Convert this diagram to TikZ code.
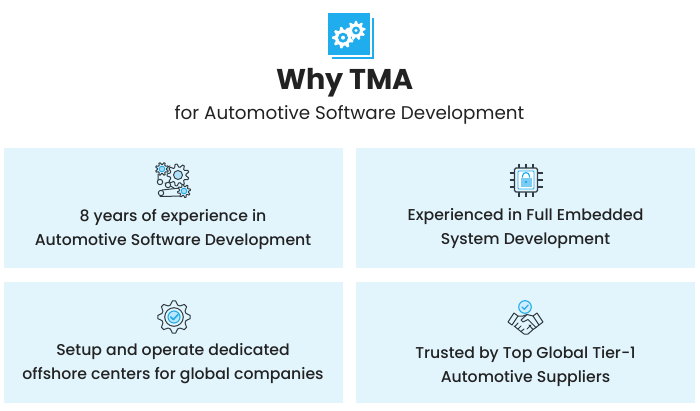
\documentclass[tikz,border=0pt]{standalone}
\usepackage{fontspec}
\setmainfont{Poppins}
\definecolor{cardbg}{HTML}{E2F5FD}
\definecolor{ink}{HTML}{222222}
\definecolor{iconblue}{HTML}{1FADEE}
\definecolor{lightblue}{HTML}{7CCDF5}
\definecolor{linegray}{HTML}{2F3A42}
\newcommand{\gear}[7]{% style cx cy rin rout teeth start
  \pgfmathsetmacro{\gs}{360/#6/4}
  \draw[#1] plot[samples at={0,...,\numexpr #6*4-1\relax}] ({#2+(mod(\x,4)<2?#4:#5)*cos(#7+(\x-0.5)*\gs)},{#3+(mod(\x,4)<2?#4:#5)*sin(#7+(\x-0.5)*\gs)}) -- cycle;
}
\tikzset{
  x=1pt,y=-1pt,
  card/.style={fill=cardbg,draw=none},
  cardtext/.style={align=center,font=\fontsize{15.7}{24}\selectfont\fontspec{Poppins Medium},text=ink,inner sep=0pt},
  linei/.style={draw=linegray,line width=1pt,line join=round,line cap=round,fill=none},
  filli/.style={draw=linegray,line width=1pt,fill=cardbg,line join=round},
  bluei/.style={draw=iconblue,line width=1.1pt,fill=lightblue!50,line join=round,line cap=round},
  whitegear/.style={fill=white,draw=none},
}
\begin{document}
\begin{tikzpicture}
\useasboundingbox (0,0) rectangle (700,410);
\fill[white] (0,0) rectangle (700,410);
% logo
\fill[iconblue] (332,18) rectangle (374,59);
\fill[white] (328,13) rectangle (371.5,56.5);
\fill[iconblue] (328,13) rectangle (370,55);
\gear{whitegear}{343}{37.7}{8}{10.8}{9}{0}
\fill[iconblue] (343,37.7) circle (5);
\fill[white] (343,37.7) circle (2);
\gear{whitegear}{356}{30.5}{7}{9.6}{9}{10}
\fill[iconblue] (356,30.5) circle (4);
\fill[white] (356,30.5) circle (1.7);
% title
\node[font=\fontsize{28.6}{34}\selectfont\bfseries,text=ink,inner sep=0pt] (title) at (345,82.5) {Why TMA};
\node[font=\fontsize{18.35}{20}\selectfont,text=ink,inner sep=0pt] (subtitle) at (349.5,114.5) {for Automotive Software Development};
% cards
\path[card] (4,148) rectangle (343,268);
\path[card] (356,148) rectangle (695,268);
\path[card] (4,282) rectangle (343,403);
\path[card] (356,282) rectangle (695,403);
% card text
\node[cardtext] (t1) at (173,229) {8 years of experience in\\Automotive Software Development};
\node[cardtext] (t2) at (525.5,229) {Experienced in Full Embedded\\System Development};
\node[cardtext] (t3) at (173,363.5) {Setup and operate dedicated\\offshore centers for global companies};
\node[cardtext] (t4) at (525.5,367) {Trusted by Top Global Tier-1\\Automotive Suppliers};
% icon 1: gears and belt
\draw[linei] (158,174) -- (158,182) (165,183) -- (174,188) (164,168) -- (170,166);
\draw[linei] (162,190) -- (180,188) (160,196.5) -- (182,196);
\gear{filli}{178}{175}{8}{11}{9}{0}
\draw[draw=linegray,line width=.9pt,fill=lightblue!60] (178,175) circle (4.5);
\gear{filli}{162}{169}{4.5}{6.5}{8}{0}
\draw[draw=iconblue,line width=.9pt,fill=lightblue!70] (162,169) circle (2.8);
\gear{filli}{184}{191}{4.5}{6.5}{8}{10}
\draw[draw=iconblue,line width=.9pt,fill=lightblue!70] (184,191) circle (2.8);
\draw[filli] (160,182) circle (2.7) (168,185) circle (2.7) (161,193) circle (2.7);
% icon 2: chip with lock
\foreach \i in {-7,0,7}{
  \draw[linegray,line width=1.6pt] (526+\i,163.5) -- (526+\i,196.5);
  \draw[linegray,line width=1.6pt] (509.5,180+\i) -- (542.5,180+\i);
}
\draw[linegray,line width=1.2pt,fill=cardbg,rounded corners=1.5pt] (514.5,168) rectangle (537.5,192);
\draw[iconblue,line width=.9pt,fill=white,rounded corners=1pt] (518,171) rectangle (534,189);
\draw[iconblue,line width=1.2pt] (522.5,177.5) -- (522.5,176) .. controls (522.5,171.5) and (529.5,171.5) .. (529.5,176) -- (529.5,177.5);
\fill[lightblue] (520.5,177.5) rectangle (531.5,187);
\fill[iconblue] (526,182) circle (1.4);
% icon 3: gear with check
\gear{linei}{174}{317}{12.5}{16.3}{8}{22.5}
\draw[linei] (174,317) circle (9.3);
\draw[bluei] (174,317) circle (6);
\draw[iconblue,line width=1.6pt,line cap=round,line join=round] (170.8,317) -- (173.3,319.6) -- (178,314.6);
% icon 4: handshake and check
\draw[draw=iconblue,line width=1.1pt,fill=lightblue!35] (525,307) circle (6.3);
\draw[iconblue,line width=1.2pt,line cap=round,line join=round] (522,307) -- (524.3,309.3) -- (528.2,305);
\draw[linei] (508,322) -- (514,313) -- (518,316) -- (512,325) -- cycle;
\draw[linei] (543,322) -- (537,313) -- (533,316) -- (539,325) -- cycle;
\draw[linei] (518,316) -- (523,316) -- (527,314.5) -- (533,316);
\draw[linei] (527,314.5) -- (521,320) -- (523,322) -- (528,319.5) -- (536,327.5) -- (533,329.5) -- (528,334) -- (524,334) -- (514,326);
\draw[linei] (536,327.5) -- (539,325);
\draw[linei] (518,323) -- (515,326.5) (521,326) -- (518,329) (524,329) -- (521,331.5) (531,325) -- (527,329) (533,329.5) -- (529,325);
\end{tikzpicture}
\end{document}
